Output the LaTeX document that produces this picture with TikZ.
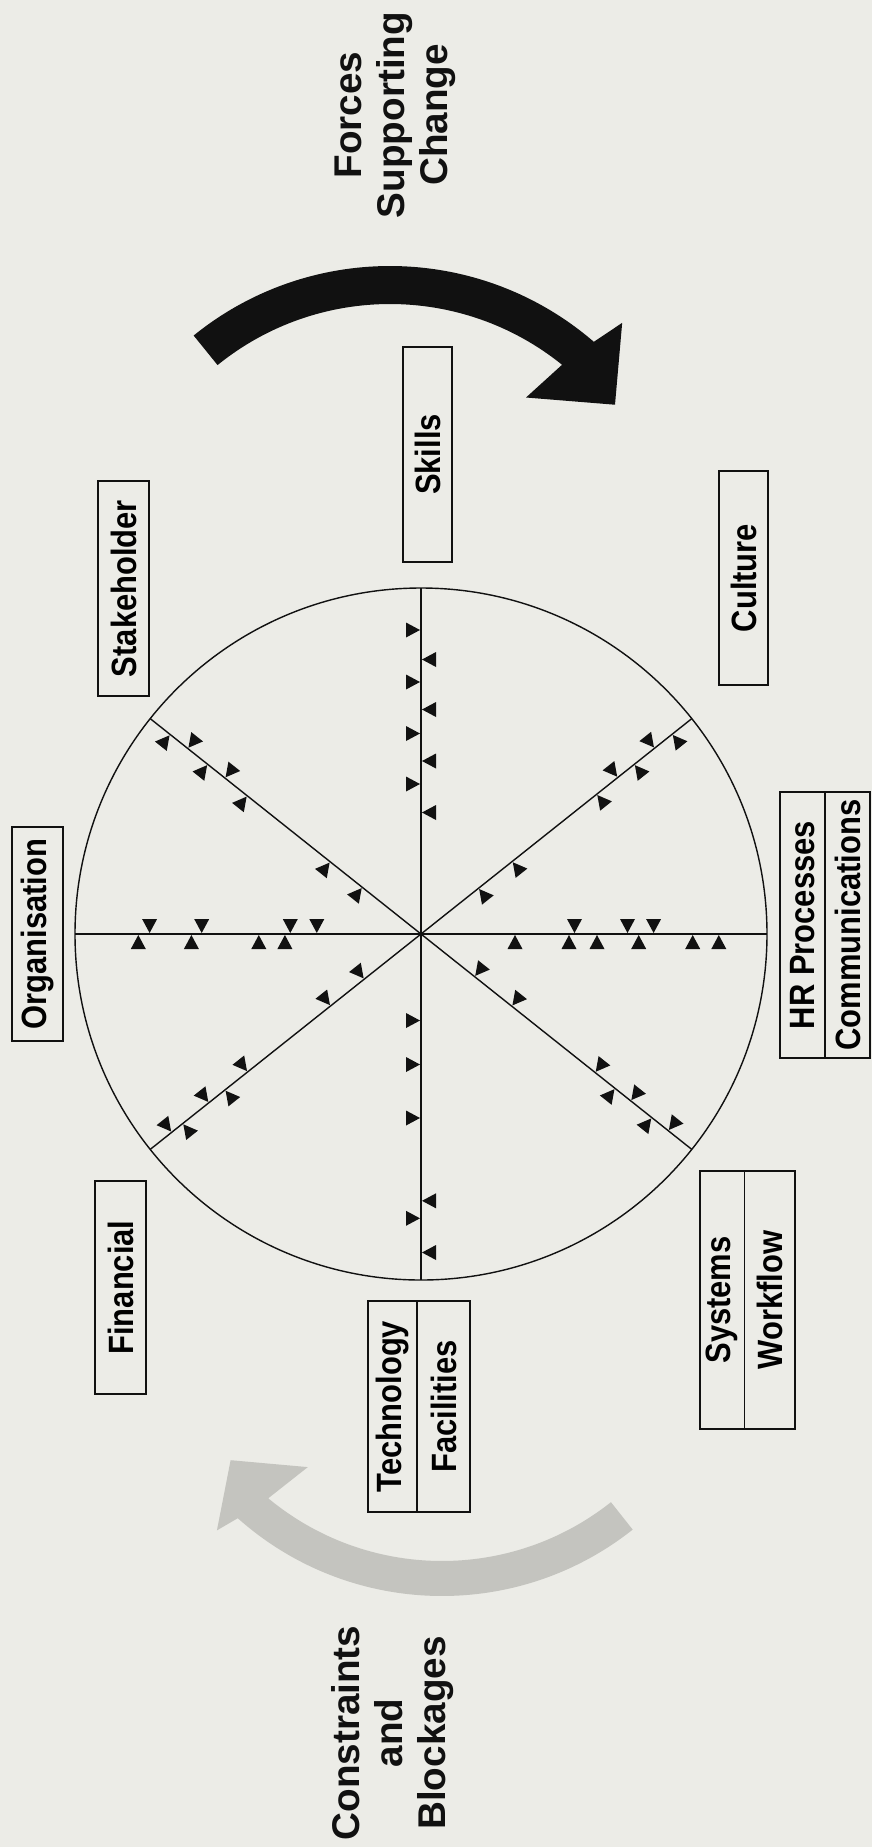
\documentclass[tikz,border=0pt]{standalone}
\usepackage{fontspec}
\usetikzlibrary{positioning}
\newfontfamily\boxfont[FakeStretch=0.88]{Liberation Sans}
\newfontfamily\headfont{Liberation Sans}
\definecolor{Paper}{HTML}{ECECE7}
\definecolor{Smoke}{HTML}{C4C4BF}
\definecolor{Ink}{HTML}{111111}
% one force marker: spoke angle, distance from centre, side
\newcommand{\pushmark}[3]{\fill[Ink, shift={(421,-934)}, rotate=#1] (#2,#3*1) -- (#2-7.5,#3*15) -- (#2+7.5,#3*15) -- cycle;}

\begin{document}
\begin{tikzpicture}[x=0.02cm, y=0.02cm,
    lbl/.style={draw=Ink, line width=1.1pt, fill=Paper, rotate=90, inner sep=0pt,
      font=\boxfont\bfseries\fontsize{20}{22}\selectfont},
    head/.style={rotate=90, align=center, text=Ink,
      font=\headfont\bfseries\fontsize{22}{24.5}\selectfont},
    spoke/.style={draw=Ink, line width=0.8pt}]
  \fill[Paper] (0,0) rectangle (872,-1847);
  \useasboundingbox (0,0) rectangle (872,-1847);

  % wheel
  \coordinate (c) at (421,-934);
  \draw[spoke] (c) circle[radius=346];
  \foreach \a in {0,38.5,90,141.5,180,218.5,270,321.5}
    \draw[spoke] (c) -- ++(\a:346);

  % force markers on each spoke
  \foreach \d/\s in {153.5/1,206.5/1,232.6/1,94/-1,148/-1,176/-1,217.7/-1,271.7/-1,297.8/-1}
    {\pushmark{0}{\d}{\s}}
  \foreach \d/\s in {271.4/-1,219.3/-1,130.7/-1,104.2/-1,282.7/1,229.6/1,162.2/1,136.1/1}
    {\pushmark{180}{\d}{\s}}
  \foreach \d/\s in {304/1,252/1,200.5/1,150/1,274.5/-1,224.5/-1,173/-1,121.5/-1}
    {\pushmark{90}{\d}{\s}}
  \foreach \d/\s in {86.5/-1,130.5/-1,184/-1,284.3/-1,266.8/1,318.5/1}
    {\pushmark{270}{\d}{\s}}
  \foreach \d/\s in {75/1,116/1,222/1,272.5/1,320.5/1,250.5/-1,298/-1}
    {\pushmark{141.5}{\d}{\s}}
  \foreach \d/\s in {73.5/-1,116.5/-1,224.5/-1,272.5/-1,321/-1,251.5/1,298.5/1}
    {\pushmark{38.5}{\d}{\s}}
  \foreach \d/\s in {72.5/-1,115.5/-1,221.5/-1,271/-1,318.5/-1,250.5/1,304.5/1}
    {\pushmark{218.5}{\d}{\s}}
  \foreach \d/\s in {68.5/1,116/1,222.5/1,268/1,316/1,248/-1,295/-1}
    {\pushmark{321.5}{\d}{\s}}

  % labels round the wheel
  \node[lbl, minimum width=4.28cm, minimum height=1.02cm] (org) at (37.5,-934) {Organisation};
  \node[lbl, minimum width=4.3cm, minimum height=1.02cm] (stake) at (123.5,-588.5) {Stakeholder};
  \node[lbl, minimum width=4.26cm, minimum height=1.02cm] (fin) at (120.5,-1287.5) {Financial};
  \node[lbl, minimum width=4.3cm, minimum height=0.98cm] (skills) at (427.5,-454.5) {Skills};
  \node[lbl, minimum width=4.28cm, minimum height=0.98cm] (culture) at (743.5,-578) {Culture};
  \node[lbl, minimum width=5.32cm, minimum height=0.9cm] (hr) at (802.5,-925) {HR Processes};
  \node[lbl, minimum width=5.32cm, minimum height=0.9cm] (comms) at (847.5,-925) {Communications};
  \node[lbl, minimum width=5.16cm, minimum height=0.89cm] (sys) at (722.25,-1300) {Systems};
  \node[lbl, minimum width=5.16cm, minimum height=1.01cm] (flow) at (769.75,-1300) {Workflow};
  \node[lbl, minimum width=4.22cm, minimum height=0.98cm] (tech) at (392.5,-1406.5) {Technology};
  \node[lbl, minimum width=4.22cm, minimum height=1.06cm] (fac) at (443.5,-1406.5) {Facilities};

  % forces arrow
  \fill[Ink, shift={(390,-578)}] (129:312) arc[start angle=129, end angle=49.2, radius=312]
    -- (47.7:345) -- (37.6:284) -- (53:226) -- (51.1:274)
    arc[start angle=51.1, end angle=129, radius=274] -- cycle;
  \node[head] (forces) at (395,-115) {Forces\\Supporting\\Change};

  % constraints arrow
  \fill[Smoke, shift={(442,-1289)}] (-51.6:307) arc[start angle=-51.6, end angle=-131.7, radius=307]
    -- (-133:330) -- (-141:272) -- (-127:223) -- (-129.7:272)
    arc[start angle=-129.7, end angle=-51.6, radius=272] -- cycle;
  \node[head] (blocks) at (393,-1733) {Constraints\\and\\Blockages};
\end{tikzpicture}
\end{document}
